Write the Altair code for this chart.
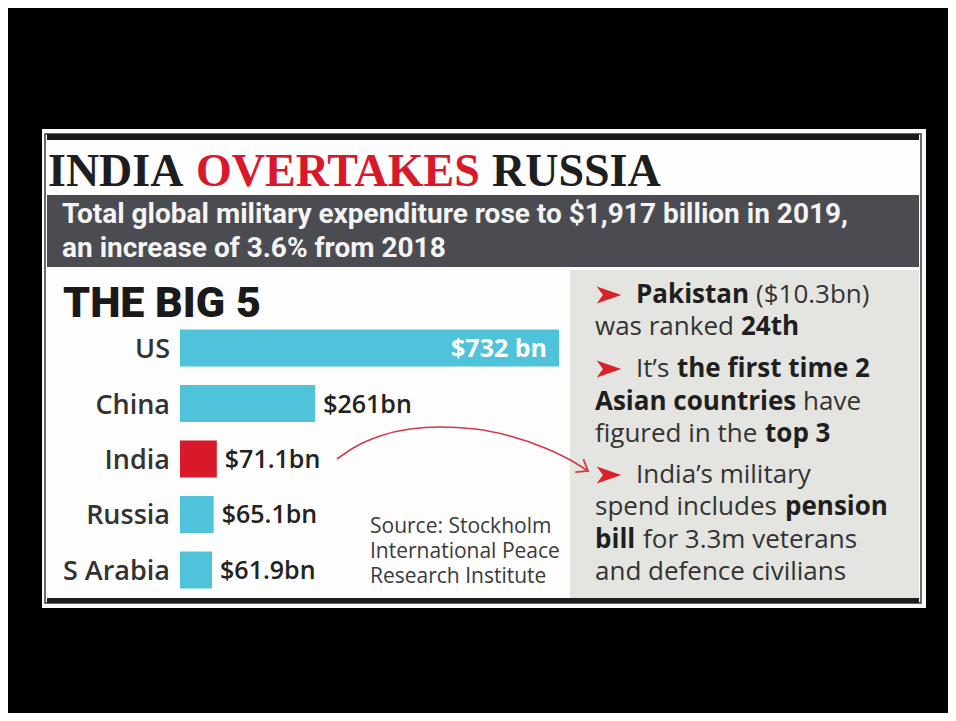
import altair as alt
import pandas as pd

# ---------------- data ----------------
countries = ["US", "China", "India", "Russia", "S Arabia"]
spend_bn = [732, 261, 71.1, 65.1, 61.9]
spend_labels = ["$732 bn", "$261bn", "$71.1bn", "$65.1bn", "$61.9bn"]
highlight_country = "India"

title_words = ["INDIA", "OVERTAKES", "RUSSIA"]
subtitle_lines = [
    "Total global military expenditure rose to $1,917 billion in 2019,",
    "an increase of 3.6% from 2018",
]
section_title = "THE BIG 5"
source_lines = ["Source: Stockholm", "International Peace", "Research Institute"]

# fact box: each line is a list of (text, bold)
note_lines = [
    [("Pakistan", True), ("($10.3bn)", False)],
    [("was ranked", False), ("24th", True)],
    [("It\u2019s", False), ("the first time 2", True)],
    [("Asian countries", True), ("have", False)],
    [("figured in the", False), ("top 3", True)],
    [("India\u2019s military", False)],
    [("spend includes", False), ("pension", True)],
    [("bill", True), ("for 3.3m veterans", False)],
    [("and defence civilians", False)],
]
bullet_line_index = [0, 2, 5]

# ---------------- layout (reference pixel space) ----------------
W, H = 940, 705
XS = alt.Scale(domain=[8, 8 + W], range=[0, W])
YS = alt.Scale(domain=[8, 8 + H], range=[0, H])

RED = "#d8192a"
CYAN = "#4ec3da"
DARK = "#1e1e1e"

note_baselines = [303, 335, 377, 410, 442, 483, 515, 548, 580]
note_x = [[636, 756], [595, 741], [636, 677], [595, 803], [595, 765],
          [636], [595, 785], [595, 643], [595]]
arrow_x = [337, 355, 380, 410, 440, 475, 510, 545, 572, 588]
arrow_y = [459, 447, 436, 429, 427, 429, 436, 448, 461, 471]


def rects(rows, **kw):
    df = pd.DataFrame(rows, columns=["x", "x2", "y", "y2", "c"])
    return alt.Chart(df).mark_rect(**kw).encode(
        x=alt.X("x:Q", scale=XS, axis=None),
        x2="x2:Q",
        y=alt.Y("y:Q", scale=YS, axis=None),
        y2="y2:Q",
        color=alt.Color("c:N", scale=None),
    )


def texts(rows, **kw):
    df = pd.DataFrame(rows, columns=["x", "y", "t"])
    params = dict(baseline="alphabetic", align="left")
    params.update(kw)
    return alt.Chart(df).mark_text(**params).encode(
        x=alt.X("x:Q", scale=XS, axis=None),
        y=alt.Y("y:Q", scale=YS, axis=None),
        text="t:N",
    )


# backgrounds
panel = rects([[42, 926, 129, 608, "#fdfdfd"]])
frame = rects([[45, 921, 134, 603, "#ffffff"]], filled=False, stroke="#3a3a3a", strokeWidth=1.5)
blocks = rects([
    [47, 919, 134, 140, "#1b1b1b"],
    [47, 919, 195, 267, "#4b4c52"],
    [570, 919, 270, 598, "#e4e4e0"],
    [47, 919, 598, 603, "#1e1e1e"],
])
background = alt.layer(panel, frame, blocks)

# headline
title_x = [48, 196, 492]
title_colors = [DARK, RED, DARK]
title_layers = [
    texts([[title_x[i], 186, w]], font="Liberation Serif", fontWeight="bold",
          fontSize=46, color=title_colors[i])
    for i, w in enumerate(title_words)
]
subtitle = texts([[62, 223, subtitle_lines[0]], [62, 257, subtitle_lines[1]]],
                 font="Roboto", fontWeight="bold", fontSize=28, color="#f4f4f4")
big5 = texts([[63, 317, section_title]], font="Roboto", fontWeight=900,
             fontSize=43, color="#1a1a1a")
source = texts([[370, 533 + 25 * i, s] for i, s in enumerate(source_lines)],
               font="Open Sans", fontSize=21, color="#3a3a3a")

# fact box text
reg_rows, bold_rows = [], []
for li, segs in enumerate(note_lines):
    for si, (t, b) in enumerate(segs):
        row = [note_x[li][si], note_baselines[li], t]
        (bold_rows if b else reg_rows).append(row)
notes_reg = texts(reg_rows, font="Open Sans", fontSize=26, color="#333333")
notes_bold = texts(bold_rows, font="Open Sans", fontWeight="bold", fontSize=26, color="#1f1f1f")

bullet_df = pd.DataFrame({"x": [609] * len(bullet_line_index),
                          "y": [note_baselines[i] - 8 for i in bullet_line_index]})
bullets = alt.Chart(bullet_df).mark_point(
    shape="M-1,-0.7L1,0L-1,0.7L-0.5,0Z", filled=True, size=600, color="#d8232a", opacity=1
).encode(x=alt.X("x:Q", scale=XS, axis=None), y=alt.Y("y:Q", scale=YS, axis=None))

# curved arrow
arrow_df = pd.DataFrame({"x": arrow_x, "y": arrow_y, "o": list(range(len(arrow_x)))})
arrow_line = alt.Chart(arrow_df).mark_line(
    color="#d03a4a", strokeWidth=1.6, interpolate="monotone"
).encode(x=alt.X("x:Q", scale=XS, axis=None), y=alt.Y("y:Q", scale=YS, axis=None), order="o:Q")
head_df = pd.DataFrame({"x": [arrow_x[-1]], "y": [arrow_y[-1]]})
arrow_head = alt.Chart(head_df).mark_point(
    shape="M-1,-0.75L0,0L-1,0.75", filled=False, size=420, color="#d03a4a",
    strokeWidth=1.8, angle=32, opacity=1
).encode(x=alt.X("x:Q", scale=XS, axis=None), y=alt.Y("y:Q", scale=YS, axis=None))

decor = alt.layer(*title_layers, subtitle, big5, source, notes_reg, notes_bold,
                  bullets, arrow_line, arrow_head)

# ---------------- bar chart ----------------
bars_df = pd.DataFrame({"country": countries, "spend": spend_bn, "label": spend_labels})
XB = alt.Scale(domain=[0, max(spend_bn)], range=[172, 551])
YB = alt.Scale(domain=countries, range=[312.25, 589.75], paddingInner=0.333, paddingOuter=0.1667)

base = alt.Chart(bars_df)
bars = base.mark_bar().encode(
    x=alt.X("spend:Q", scale=XB, axis=None),
    y=alt.Y("country:N", scale=YB, sort=countries, axis=None),
    color=alt.condition(alt.datum.country == highlight_country, alt.value(RED), alt.value(CYAN)),
)
inside = base.transform_filter("datum.spend > 500").mark_text(
    align="right", baseline="alphabetic", dx=-12, dy=9, font="Open Sans",
    fontWeight="bold", fontSize=25, color="#ffffff"
).encode(x=alt.X("spend:Q", scale=XB, axis=None),
         y=alt.Y("country:N", scale=YB, sort=countries, axis=None), text="label:N")
outside = base.transform_filter("datum.spend <= 500").mark_text(
    align="left", baseline="alphabetic", dx=8, dy=9, font="Open Sans",
    fontWeight=600, fontSize=25, color="#222222"
).encode(x=alt.X("spend:Q", scale=XB, axis=None),
         y=alt.Y("country:N", scale=YB, sort=countries, axis=None), text="label:N")
cats = base.mark_text(
    align="right", baseline="alphabetic", dy=10, font="Open Sans",
    fontWeight=600, fontSize=27, color="#333333"
).encode(x=alt.value(162), y=alt.Y("country:N", scale=YB, sort=countries, axis=None),
         text="country:N")
bar_group = alt.layer(bars, inside, outside, cats)

chart = alt.layer(background, bar_group, decor).resolve_scale(
    x="independent", y="independent"
).properties(width=W, height=H, padding=0, background="#000000").configure_view(
    strokeWidth=0
)

chart.save("out.html", embed_options={"renderer": "svg", "actions": False})
